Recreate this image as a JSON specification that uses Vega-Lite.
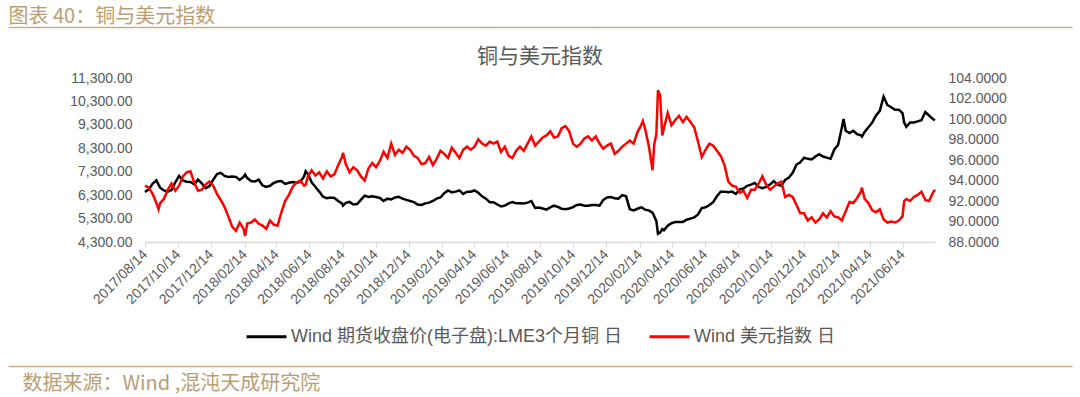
{
  "$schema": "https://vega.github.io/schema/vega-lite/v6.json",
  "padding": {"left": 8, "top": 6, "right": 8, "bottom": 2},
  "background": "white",
  "center": true,
  "bounds": "flush",
  "spacing": 50,
  "resolve": {"scale": {"x": "independent", "y": "independent", "color": "independent"}},
  "config": {
    "view": {"stroke": null},
    "legend": {"layout": {"bottom": {"anchor": "middle"}}}
  },
  "datasets": {
    "main": [
      {"d": "2017-08-14", "cu": 6430, "dx": 93.5},
      {"d": "2017-08-21", "cu": 6550, "dx": 93.3},
      {"d": "2017-08-28", "cu": 6780, "dx": 92.7},
      {"d": "2017-09-04", "cu": 6930, "dx": 91.8},
      {"d": "2017-09-08", "cu": 6750, "dx": 91.2},
      {"d": "2017-09-11", "cu": 6620, "dx": 91.8},
      {"d": "2017-09-18", "cu": 6500, "dx": 92.2},
      {"d": "2017-09-25", "cu": 6450, "dx": 93.1},
      {"d": "2017-10-02", "cu": 6520, "dx": 93.7},
      {"d": "2017-10-09", "cu": 6850, "dx": 93.0},
      {"d": "2017-10-16", "cu": 7120, "dx": 93.5},
      {"d": "2017-10-23", "cu": 6930, "dx": 94.4},
      {"d": "2017-10-30", "cu": 6870, "dx": 94.8},
      {"d": "2017-11-06", "cu": 6860, "dx": 94.9},
      {"d": "2017-11-13", "cu": 6760, "dx": 93.8},
      {"d": "2017-11-20", "cu": 6960, "dx": 93.0},
      {"d": "2017-11-27", "cu": 6800, "dx": 93.1},
      {"d": "2017-12-04", "cu": 6600, "dx": 93.6},
      {"d": "2017-12-11", "cu": 6680, "dx": 93.9},
      {"d": "2017-12-18", "cu": 6950, "dx": 93.5},
      {"d": "2017-12-25", "cu": 7200, "dx": 92.7},
      {"d": "2018-01-01", "cu": 7250, "dx": 92.1},
      {"d": "2018-01-08", "cu": 7120, "dx": 91.4},
      {"d": "2018-01-15", "cu": 7080, "dx": 90.5},
      {"d": "2018-01-22", "cu": 7100, "dx": 89.5},
      {"d": "2018-01-29", "cu": 7080, "dx": 89.1},
      {"d": "2018-02-05", "cu": 6950, "dx": 89.9},
      {"d": "2018-02-12", "cu": 7080, "dx": 89.3},
      {"d": "2018-02-15", "cu": 7180, "dx": 88.6},
      {"d": "2018-02-19", "cu": 7030, "dx": 89.8},
      {"d": "2018-02-26", "cu": 6900, "dx": 89.9},
      {"d": "2018-03-05", "cu": 6880, "dx": 90.2},
      {"d": "2018-03-12", "cu": 6960, "dx": 89.8},
      {"d": "2018-03-19", "cu": 6720, "dx": 89.6},
      {"d": "2018-03-26", "cu": 6650, "dx": 89.3},
      {"d": "2018-04-02", "cu": 6700, "dx": 90.1},
      {"d": "2018-04-09", "cu": 6820, "dx": 89.7},
      {"d": "2018-04-16", "cu": 6880, "dx": 89.6},
      {"d": "2018-04-23", "cu": 6900, "dx": 90.9},
      {"d": "2018-04-30", "cu": 6780, "dx": 92.0},
      {"d": "2018-05-07", "cu": 6830, "dx": 92.6},
      {"d": "2018-05-14", "cu": 6860, "dx": 93.4},
      {"d": "2018-05-21", "cu": 6830, "dx": 93.8},
      {"d": "2018-05-28", "cu": 6870, "dx": 94.0},
      {"d": "2018-06-04", "cu": 7100, "dx": 93.5},
      {"d": "2018-06-07", "cu": 7320, "dx": 93.6},
      {"d": "2018-06-11", "cu": 7200, "dx": 94.4},
      {"d": "2018-06-18", "cu": 6850, "dx": 95.0},
      {"d": "2018-06-25", "cu": 6650, "dx": 94.5},
      {"d": "2018-07-02", "cu": 6450, "dx": 94.8},
      {"d": "2018-07-09", "cu": 6230, "dx": 94.2},
      {"d": "2018-07-16", "cu": 6170, "dx": 94.9},
      {"d": "2018-07-23", "cu": 6200, "dx": 94.4},
      {"d": "2018-07-30", "cu": 6180, "dx": 94.6},
      {"d": "2018-08-06", "cu": 6050, "dx": 95.5},
      {"d": "2018-08-13", "cu": 5950, "dx": 96.3},
      {"d": "2018-08-15", "cu": 5850, "dx": 96.7},
      {"d": "2018-08-20", "cu": 5970, "dx": 95.6},
      {"d": "2018-08-27", "cu": 6010, "dx": 94.8},
      {"d": "2018-09-03", "cu": 5900, "dx": 95.3},
      {"d": "2018-09-10", "cu": 5920, "dx": 95.0},
      {"d": "2018-09-17", "cu": 6100, "dx": 94.4},
      {"d": "2018-09-24", "cu": 6280, "dx": 94.0},
      {"d": "2018-10-01", "cu": 6220, "dx": 95.2},
      {"d": "2018-10-08", "cu": 6250, "dx": 95.7},
      {"d": "2018-10-15", "cu": 6220, "dx": 95.3},
      {"d": "2018-10-22", "cu": 6180, "dx": 95.9},
      {"d": "2018-10-29", "cu": 6050, "dx": 96.8},
      {"d": "2018-11-05", "cu": 6150, "dx": 96.2},
      {"d": "2018-11-12", "cu": 6120, "dx": 97.6},
      {"d": "2018-11-19", "cu": 6200, "dx": 96.5},
      {"d": "2018-11-26", "cu": 6230, "dx": 97.0},
      {"d": "2018-12-03", "cu": 6150, "dx": 96.7},
      {"d": "2018-12-10", "cu": 6100, "dx": 97.3},
      {"d": "2018-12-17", "cu": 6050, "dx": 97.0},
      {"d": "2018-12-24", "cu": 6000, "dx": 96.4},
      {"d": "2018-12-31", "cu": 5900, "dx": 96.2},
      {"d": "2019-01-07", "cu": 5880, "dx": 95.6},
      {"d": "2019-01-14", "cu": 5950, "dx": 95.7},
      {"d": "2019-01-21", "cu": 5980, "dx": 96.3},
      {"d": "2019-01-28", "cu": 6050, "dx": 95.5},
      {"d": "2019-02-04", "cu": 6150, "dx": 96.1},
      {"d": "2019-02-11", "cu": 6200, "dx": 96.9},
      {"d": "2019-02-18", "cu": 6380, "dx": 96.6},
      {"d": "2019-02-25", "cu": 6500, "dx": 96.2},
      {"d": "2019-03-04", "cu": 6420, "dx": 97.2},
      {"d": "2019-03-11", "cu": 6450, "dx": 96.7},
      {"d": "2019-03-18", "cu": 6500, "dx": 96.2},
      {"d": "2019-03-25", "cu": 6350, "dx": 97.0},
      {"d": "2019-04-01", "cu": 6450, "dx": 97.3},
      {"d": "2019-04-08", "cu": 6450, "dx": 97.0},
      {"d": "2019-04-15", "cu": 6500, "dx": 97.3},
      {"d": "2019-04-22", "cu": 6400, "dx": 98.0},
      {"d": "2019-04-29", "cu": 6250, "dx": 97.6},
      {"d": "2019-05-06", "cu": 6150, "dx": 97.4},
      {"d": "2019-05-13", "cu": 6000, "dx": 97.8},
      {"d": "2019-05-20", "cu": 6000, "dx": 97.6},
      {"d": "2019-05-27", "cu": 5900, "dx": 97.8},
      {"d": "2019-06-03", "cu": 5820, "dx": 96.8},
      {"d": "2019-06-10", "cu": 5850, "dx": 97.3},
      {"d": "2019-06-17", "cu": 5950, "dx": 96.4},
      {"d": "2019-06-24", "cu": 6000, "dx": 96.2},
      {"d": "2019-07-01", "cu": 5950, "dx": 96.9},
      {"d": "2019-07-08", "cu": 5950, "dx": 97.3},
      {"d": "2019-07-15", "cu": 5940, "dx": 96.9},
      {"d": "2019-07-22", "cu": 5980, "dx": 97.6},
      {"d": "2019-07-29", "cu": 6050, "dx": 98.3},
      {"d": "2019-08-05", "cu": 5750, "dx": 97.4},
      {"d": "2019-08-12", "cu": 5770, "dx": 97.8},
      {"d": "2019-08-19", "cu": 5730, "dx": 98.2},
      {"d": "2019-08-26", "cu": 5680, "dx": 98.4},
      {"d": "2019-09-02", "cu": 5780, "dx": 98.8},
      {"d": "2019-09-09", "cu": 5850, "dx": 98.2},
      {"d": "2019-09-16", "cu": 5800, "dx": 98.3},
      {"d": "2019-09-23", "cu": 5720, "dx": 99.1},
      {"d": "2019-09-30", "cu": 5700, "dx": 99.3},
      {"d": "2019-10-07", "cu": 5730, "dx": 98.8},
      {"d": "2019-10-14", "cu": 5790, "dx": 97.6},
      {"d": "2019-10-21", "cu": 5880, "dx": 97.3},
      {"d": "2019-10-28", "cu": 5900, "dx": 97.6},
      {"d": "2019-11-04", "cu": 5850, "dx": 98.1},
      {"d": "2019-11-11", "cu": 5850, "dx": 98.3},
      {"d": "2019-11-18", "cu": 5880, "dx": 97.9},
      {"d": "2019-11-25", "cu": 5880, "dx": 98.3},
      {"d": "2019-12-02", "cu": 5850, "dx": 97.6},
      {"d": "2019-12-09", "cu": 6100, "dx": 97.1},
      {"d": "2019-12-16", "cu": 6200, "dx": 97.4},
      {"d": "2019-12-23", "cu": 6220, "dx": 97.6},
      {"d": "2019-12-30", "cu": 6170, "dx": 96.6},
      {"d": "2020-01-06", "cu": 6150, "dx": 96.9},
      {"d": "2020-01-13", "cu": 6300, "dx": 97.3},
      {"d": "2020-01-20", "cu": 6250, "dx": 97.6},
      {"d": "2020-01-27", "cu": 5700, "dx": 97.9},
      {"d": "2020-02-03", "cu": 5650, "dx": 97.6},
      {"d": "2020-02-10", "cu": 5720, "dx": 98.7},
      {"d": "2020-02-17", "cu": 5780, "dx": 99.4},
      {"d": "2020-02-20", "cu": 5750, "dx": 99.8},
      {"d": "2020-02-24", "cu": 5680, "dx": 99.1},
      {"d": "2020-03-02", "cu": 5650, "dx": 97.4},
      {"d": "2020-03-09", "cu": 5550, "dx": 95.0},
      {"d": "2020-03-12", "cu": 5400, "dx": 97.5},
      {"d": "2020-03-16", "cu": 5200, "dx": 98.5},
      {"d": "2020-03-19", "cu": 4650, "dx": 102.8},
      {"d": "2020-03-23", "cu": 4700, "dx": 102.3},
      {"d": "2020-03-27", "cu": 4850, "dx": 98.4},
      {"d": "2020-03-30", "cu": 4800, "dx": 99.1},
      {"d": "2020-04-06", "cu": 5000, "dx": 100.6},
      {"d": "2020-04-13", "cu": 5100, "dx": 99.4},
      {"d": "2020-04-20", "cu": 5150, "dx": 99.9},
      {"d": "2020-04-27", "cu": 5150, "dx": 100.3},
      {"d": "2020-05-04", "cu": 5150, "dx": 99.7},
      {"d": "2020-05-11", "cu": 5250, "dx": 100.2},
      {"d": "2020-05-18", "cu": 5300, "dx": 99.7},
      {"d": "2020-05-25", "cu": 5350, "dx": 99.2},
      {"d": "2020-06-01", "cu": 5480, "dx": 97.8},
      {"d": "2020-06-08", "cu": 5750, "dx": 96.3},
      {"d": "2020-06-15", "cu": 5780, "dx": 97.0},
      {"d": "2020-06-22", "cu": 5880, "dx": 97.6},
      {"d": "2020-06-29", "cu": 6000, "dx": 97.4},
      {"d": "2020-07-06", "cu": 6250, "dx": 96.9},
      {"d": "2020-07-13", "cu": 6450, "dx": 96.4},
      {"d": "2020-07-20", "cu": 6450, "dx": 95.5},
      {"d": "2020-07-27", "cu": 6420, "dx": 93.9},
      {"d": "2020-08-03", "cu": 6450, "dx": 93.5},
      {"d": "2020-08-10", "cu": 6350, "dx": 93.4},
      {"d": "2020-08-17", "cu": 6550, "dx": 92.8},
      {"d": "2020-08-24", "cu": 6580, "dx": 93.0},
      {"d": "2020-08-31", "cu": 6700, "dx": 92.3},
      {"d": "2020-09-07", "cu": 6750, "dx": 93.1},
      {"d": "2020-09-14", "cu": 6820, "dx": 93.1},
      {"d": "2020-09-21", "cu": 6650, "dx": 93.7},
      {"d": "2020-09-28", "cu": 6600, "dx": 94.4},
      {"d": "2020-10-05", "cu": 6650, "dx": 93.6},
      {"d": "2020-10-12", "cu": 6750, "dx": 93.1},
      {"d": "2020-10-19", "cu": 6900, "dx": 93.4},
      {"d": "2020-10-26", "cu": 6750, "dx": 93.7},
      {"d": "2020-11-02", "cu": 6700, "dx": 93.9},
      {"d": "2020-11-09", "cu": 6950, "dx": 92.4},
      {"d": "2020-11-16", "cu": 7050, "dx": 92.6},
      {"d": "2020-11-23", "cu": 7250, "dx": 92.4},
      {"d": "2020-11-30", "cu": 7600, "dx": 91.6},
      {"d": "2020-12-07", "cu": 7700, "dx": 90.8},
      {"d": "2020-12-14", "cu": 7900, "dx": 90.8},
      {"d": "2020-12-21", "cu": 7850, "dx": 90.1},
      {"d": "2020-12-28", "cu": 7820, "dx": 90.4},
      {"d": "2021-01-04", "cu": 7950, "dx": 89.9},
      {"d": "2021-01-11", "cu": 8050, "dx": 90.2},
      {"d": "2021-01-18", "cu": 7950, "dx": 90.8},
      {"d": "2021-01-25", "cu": 7900, "dx": 90.4},
      {"d": "2021-02-01", "cu": 7850, "dx": 91.0},
      {"d": "2021-02-08", "cu": 8250, "dx": 90.5},
      {"d": "2021-02-15", "cu": 8450, "dx": 90.4},
      {"d": "2021-02-22", "cu": 9200, "dx": 90.1},
      {"d": "2021-02-25", "cu": 9550, "dx": 90.5},
      {"d": "2021-03-01", "cu": 9050, "dx": 91.0},
      {"d": "2021-03-08", "cu": 8950, "dx": 91.9},
      {"d": "2021-03-15", "cu": 9050, "dx": 91.8},
      {"d": "2021-03-22", "cu": 8900, "dx": 92.3},
      {"d": "2021-03-29", "cu": 8850, "dx": 92.9},
      {"d": "2021-03-31", "cu": 8800, "dx": 93.3},
      {"d": "2021-04-05", "cu": 9000, "dx": 92.2},
      {"d": "2021-04-12", "cu": 9200, "dx": 91.8},
      {"d": "2021-04-19", "cu": 9400, "dx": 91.1},
      {"d": "2021-04-26", "cu": 9700, "dx": 90.9},
      {"d": "2021-05-03", "cu": 9900, "dx": 91.2},
      {"d": "2021-05-10", "cu": 10500, "dx": 90.2},
      {"d": "2021-05-17", "cu": 10150, "dx": 89.9},
      {"d": "2021-05-24", "cu": 10050, "dx": 90.0},
      {"d": "2021-05-31", "cu": 9950, "dx": 89.9},
      {"d": "2021-06-07", "cu": 9950, "dx": 90.1},
      {"d": "2021-06-14", "cu": 9800, "dx": 90.5},
      {"d": "2021-06-17", "cu": 9400, "dx": 92.0},
      {"d": "2021-06-21", "cu": 9220, "dx": 92.2},
      {"d": "2021-06-28", "cu": 9400, "dx": 92.0},
      {"d": "2021-07-05", "cu": 9400, "dx": 92.4},
      {"d": "2021-07-12", "cu": 9450, "dx": 92.6},
      {"d": "2021-07-19", "cu": 9500, "dx": 92.9},
      {"d": "2021-07-26", "cu": 9850, "dx": 92.1},
      {"d": "2021-08-02", "cu": 9700, "dx": 92.0},
      {"d": "2021-08-09", "cu": 9550, "dx": 92.8},
      {"d": "2021-08-13", "cu": 9500, "dx": 93.1}
    ]
  },
  "vconcat": [
    {
      "width": 1064,
      "height": 1,
      "data": {"values": []},
      "mark": "point",
      "encoding": {
        "x": {
          "field": "k",
          "type": "quantitative",
          "scale": {"domain": [0, 1]},
          "axis": {
            "orient": "top",
            "domain": true,
            "domainColor": "#c5b08b",
            "domainWidth": 1.5,
            "ticks": false,
            "labels": false,
            "grid": false,
            "title": "\u00a0\u00a0\u00a0图表 40：铜与美元指数",
            "titleAnchor": "start",
            "titleAlign": "left",
            "titleBaseline": "bottom",
            "titlePadding": 1,
            "titleFontSize": 20,
            "titleFontWeight": "normal",
            "titleFont": "Noto Sans CJK SC",
            "titleColor": "#b99e73"
          }
        }
      }
    },
    {
      "width": 790,
      "height": 164,
      "data": {"name": "main"},
      "title": {
        "text": "铜与美元指数",
        "anchor": "middle",
        "frame": "group",
        "offset": 4,
        "fontSize": 21,
        "fontWeight": "normal",
        "font": "Noto Sans CJK SC",
        "color": "#595959"
      },
      "encoding": {
        "x": {
          "field": "d",
          "type": "temporal",
          "scale": {
            "type": "utc",
            "domain": [
              {"year": 2017, "month": 8, "date": 14, "utc": true},
              {"year": 2021, "month": 8, "date": 13, "utc": true}
            ]
          },
          "axis": {
            "values": [
              {"year": 2017, "month": 8, "date": 14, "utc": true},
              {"year": 2017, "month": 10, "date": 14, "utc": true},
              {"year": 2017, "month": 12, "date": 14, "utc": true},
              {"year": 2018, "month": 2, "date": 14, "utc": true},
              {"year": 2018, "month": 4, "date": 14, "utc": true},
              {"year": 2018, "month": 6, "date": 14, "utc": true},
              {"year": 2018, "month": 8, "date": 14, "utc": true},
              {"year": 2018, "month": 10, "date": 14, "utc": true},
              {"year": 2018, "month": 12, "date": 14, "utc": true},
              {"year": 2019, "month": 2, "date": 14, "utc": true},
              {"year": 2019, "month": 4, "date": 14, "utc": true},
              {"year": 2019, "month": 6, "date": 14, "utc": true},
              {"year": 2019, "month": 8, "date": 14, "utc": true},
              {"year": 2019, "month": 10, "date": 14, "utc": true},
              {"year": 2019, "month": 12, "date": 14, "utc": true},
              {"year": 2020, "month": 2, "date": 14, "utc": true},
              {"year": 2020, "month": 4, "date": 14, "utc": true},
              {"year": 2020, "month": 6, "date": 14, "utc": true},
              {"year": 2020, "month": 8, "date": 14, "utc": true},
              {"year": 2020, "month": 10, "date": 14, "utc": true},
              {"year": 2020, "month": 12, "date": 14, "utc": true},
              {"year": 2021, "month": 2, "date": 14, "utc": true},
              {"year": 2021, "month": 4, "date": 14, "utc": true},
              {"year": 2021, "month": 6, "date": 14, "utc": true}
            ],
            "format": "%Y/%m/%d",
            "labelAngle": -45,
            "labelAlign": "right",
            "labelBaseline": "middle",
            "labelPadding": 5,
            "labelFontSize": 14,
            "labelFont": "Liberation Sans",
            "labelColor": "#595959",
            "labelOverlap": false,
            "labelFlush": false,
            "tickColor": "#d9d9d9",
            "tickSize": 5,
            "domainColor": "#d9d9d9",
            "domainWidth": 1.5,
            "grid": false,
            "title": null
          }
        }
      },
      "layer": [
        {
          "mark": {"type": "line", "strokeWidth": 2.5},
          "encoding": {
            "y": {
              "field": "cu",
              "type": "quantitative",
              "scale": {"domain": [4300, 11300], "nice": false, "zero": false},
              "axis": {
                "values": [4300, 5300, 6300, 7300, 8300, 9300, 10300, 11300],
                "format": ",.2f",
                "domain": false,
                "ticks": false,
                "grid": false,
                "labelPadding": 13,
                "labelFontSize": 14,
                "labelFont": "Liberation Sans",
                "labelColor": "#595959",
                "title": null
              }
            },
            "color": {
              "datum": "Wind 期货收盘价(电子盘):LME3个月铜 日",
              "type": "nominal",
              "scale": {
                "domain": ["Wind 期货收盘价(电子盘):LME3个月铜 日", "Wind 美元指数 日"],
                "range": ["#000000", "#ff0000"]
              },
              "legend": {
                "orient": "bottom",
                "direction": "horizontal",
                "title": null,
                "symbolType": "stroke",
                "symbolSize": 1600,
                "symbolStrokeWidth": 3,
                "labelFontSize": 18,
                "labelFont": "Liberation Sans, Noto Sans CJK SC",
                "labelColor": "#595959",
                "labelLimit": 0,
                "labelOffset": 3,
                "columnPadding": 20,
                "offset": 8
              }
            }
          }
        },
        {
          "mark": {"type": "line", "strokeWidth": 2.5},
          "encoding": {
            "y": {
              "field": "dx",
              "type": "quantitative",
              "scale": {"domain": [88, 104], "nice": false, "zero": false},
              "axis": {
                "orient": "right",
                "values": [88, 90, 92, 94, 96, 98, 100, 102, 104],
                "format": ".4f",
                "domain": false,
                "ticks": false,
                "grid": false,
                "labelPadding": 13,
                "labelFontSize": 14,
                "labelFont": "Liberation Sans",
                "labelColor": "#595959",
                "title": null
              }
            },
            "color": {"datum": "Wind 美元指数 日", "type": "nominal"}
          }
        }
      ],
      "resolve": {"scale": {"y": "independent"}}
    },
    {
      "width": 1064,
      "height": 74,
      "data": {"values": []},
      "mark": "point",
      "encoding": {
        "x": {
          "field": "k",
          "type": "quantitative",
          "scale": {"domain": [0, 1]},
          "axis": {
            "orient": "bottom",
            "domain": true,
            "domainColor": "#c5b08b",
            "domainWidth": 1.5,
            "ticks": false,
            "labels": false,
            "grid": false,
            "title": "数据来源：Wind ,混沌天成研究院",
            "titleAnchor": "start",
            "titleAlign": "left",
            "titleBaseline": "top",
            "titleX": 14,
            "titlePadding": 7,
            "titleFontSize": 20,
            "titleFontWeight": "normal",
            "titleFont": "Noto Sans CJK SC",
            "titleColor": "#b99e73"
          }
        }
      }
    }
  ]
}
